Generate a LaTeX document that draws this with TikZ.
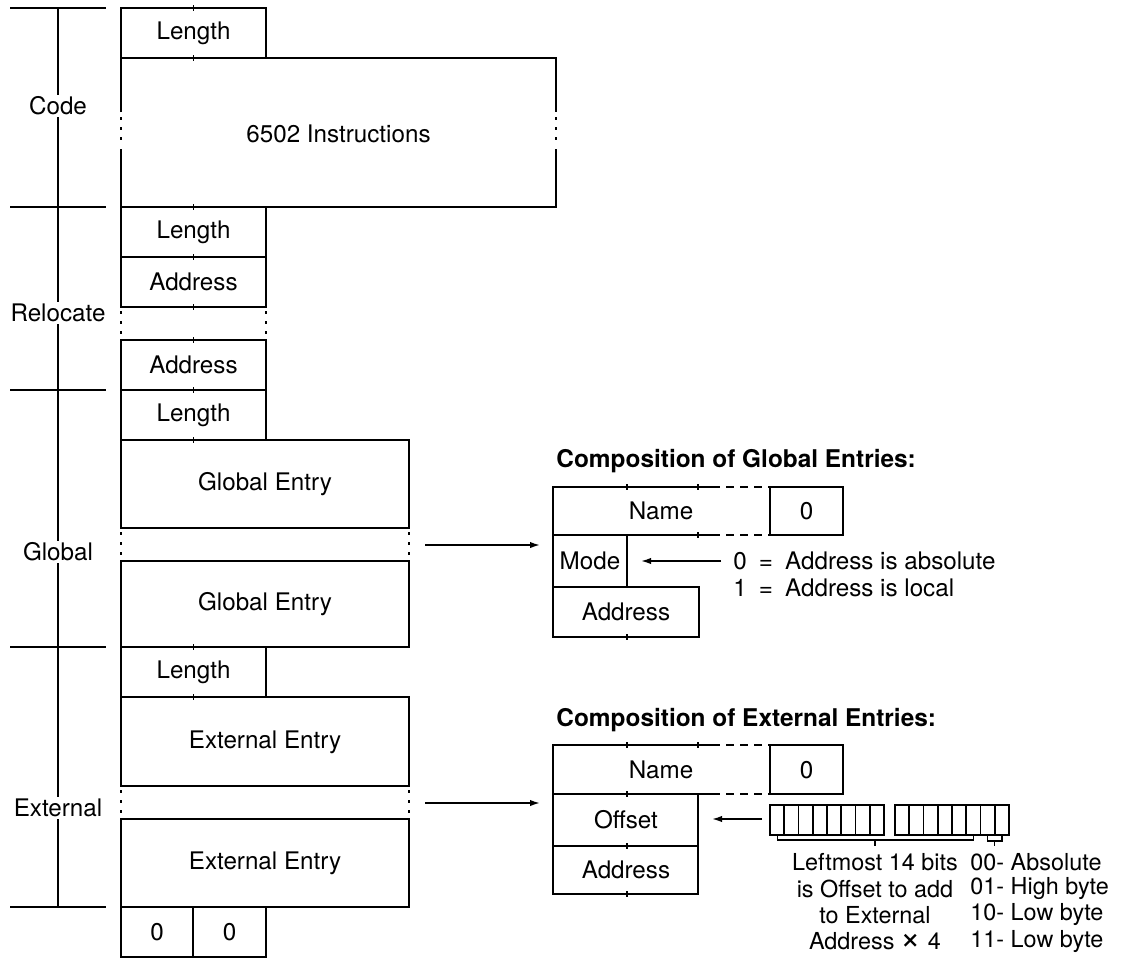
\documentclass[tikz,border=0pt]{standalone}
\usepackage{fontspec}
\setmainfont{TeX Gyre Heros}
\usetikzlibrary{arrows.meta}

\tikzset{
  box/.style={line width=1pt},
  rule/.style={line width=0.9pt},
  dots/.style={line width=1.1pt, dash pattern=on 1.5pt off 3.5pt},
  tick/.style={line width=0.6pt},
  lbl/.style={font=\fontsize{12.1}{13.25}\selectfont, inner sep=1pt},
  note/.style={font=\fontsize{11.7}{12.6}\selectfont, inner sep=0pt},
  ttl/.style={font=\bfseries\fontsize{12.2}{13.25}\selectfont, anchor=west, inner sep=0pt},
  arr/.style={line width=0.8pt, -{Latex[length=5pt,width=3.2pt]}},
}

\begin{document}
\begin{tikzpicture}[x=0.5pt, y=-0.5pt]
\useasboundingbox (0,0) rectangle (1125,964);

% sections on the left
\draw[rule] (58,8) -- (58,907);
\foreach \y in {8,207,390,647,907}
  \draw[rule] (10,\y) -- (106,\y);
\node[lbl, fill=white] (code) at (58,106) {Code};
\node[lbl, fill=white] (reloc) at (58,313) {Relocate};
\node[lbl, fill=white] (glob) at (58,552) {Global};
\node[lbl, fill=white] (extn) at (58,808) {External};

% code block
\draw[box] (121,8) rectangle (266,58);
\node[lbl] (codelen) at (193.5,33) {Length};
\draw[box] (121,112) -- (121,58) -- (556,58) -- (556,112);
\draw[box] (121,149) -- (121,207) -- (556,207) -- (556,149);
\draw[dots] (121,117) -- (121,146);
\draw[dots] (556,117) -- (556,146);
\node[lbl] (instr) at (338.5,134) {6502 Instructions};

% relocation block
\draw[box] (121,207) rectangle (266,257);
\draw[box] (121,257) rectangle (266,307);
\node[lbl] (rellen) at (193.5,232) {Length};
\node[lbl] (reladdr) at (193.5,282) {Address};
\draw[dots] (121,311) -- (121,339);
\draw[dots] (266,311) -- (266,339);
\draw[box] (121,340) rectangle (266,390);
\node[lbl] (reladdrb) at (193.5,365) {Address};

% global block
\draw[box] (121,390) rectangle (266,440);
\node[lbl] (globlen) at (193.5,415) {Length};
\draw[box] (121,440) rectangle (409,528);
\node[lbl] (globa) at (265,484) {Global Entry};
\draw[dots] (121,532) -- (121,560);
\draw[dots] (409,532) -- (409,560);
\draw[box] (121,561) rectangle (409,647);
\node[lbl] (globb) at (265,604) {Global Entry};

% external block
\draw[box] (121,647) rectangle (266,697);
\node[lbl] (extlen) at (193.5,672) {Length};
\draw[box] (121,697) rectangle (409,786);
\node[lbl] (exta) at (265,742) {External Entry};
\draw[dots] (121,790) -- (121,818);
\draw[dots] (409,790) -- (409,818);
\draw[box] (121,819) rectangle (409,907);
\node[lbl] (extb) at (265,863) {External Entry};
\draw[box] (121,907) rectangle (193,957);
\draw[box] (193,907) rectangle (266,957);
\node[lbl] (endl) at (157,932) {0};
\node[lbl] (endr) at (229.5,932) {0};

% byte marks
\foreach \y in {8,58,207,257,307,340,390,440,647,697}
  \draw[tick] (193.5,\y-3) -- (193.5,\y+3);

% composition of global entries
\node[ttl] (gttl) at (556,461) {Composition of Global Entries:};
\draw[box] (712,487) -- (553,487) -- (553,637) -- (699,637) -- (699,587) -- (553,587);
\draw[box] (553,535) -- (712,535);
\draw[box] (627,535) -- (627,587);
\draw[box, dash pattern=on 4pt off 3pt] (712,487) -- (770,487);
\draw[box, dash pattern=on 4pt off 3pt] (712,535) -- (770,535);
\draw[box] (770,487) rectangle (843,535);
\node[lbl] (gname) at (661,511) {Name};
\node[lbl] (gzero) at (806.5,511) {0};
\node[lbl] (gmode) at (590,561) {Mode};
\node[lbl] (gaddr) at (626,612) {Address};
\foreach \x/\y in {627/487,698/487,698/535,627/637}
  \draw[tick] (\x,\y-3) -- (\x,\y+3);
\node[lbl, anchor=west] (gabs) at (731,561) {0\enspace=\enspace Address is absolute};
\node[lbl, anchor=west] (gloc) at (731,588) {1\enspace=\enspace Address is local};
\coordinate (gmodehd) at (641,561);
\draw[arr, shorten <=5pt] (gabs.west) -- (gmodehd);

% composition of external entries
\node[ttl] (ettl) at (556,720) {Composition of External Entries:};
\draw[box] (712,745) -- (553,745) -- (553,894) -- (698,894) -- (698,794);
\draw[box] (553,794) -- (712,794);
\draw[box] (553,846) -- (698,846);
\draw[box, dash pattern=on 4pt off 3pt] (712,745) -- (770,745);
\draw[box, dash pattern=on 4pt off 3pt] (712,794) -- (770,794);
\draw[box] (770,745) rectangle (843,794);
\node[lbl] (ename) at (661,770) {Name};
\node[lbl] (ezero) at (806.5,770) {0};
\node[lbl] (eoff) at (626,820) {Offset};
\node[lbl] (eaddr) at (626,870) {Address};
\foreach \x/\y in {627/745,698/745,627/794,627/846,627/894}
  \draw[tick] (\x,\y-3) -- (\x,\y+3);

% the 16 bits
\draw[box] (770,805) rectangle (884,835);
\draw[box] (895,805) rectangle (1009,835);
\foreach \i in {1,...,7} {
  \draw[tick, line width=0.8pt] (770+\i*14.25,805) -- ++(0,30);
  \draw[tick, line width=0.8pt] (895+\i*14.25,805) -- ++(0,30);
}
\coordinate (bits) at (762,819);
\coordinate (eoffhd) at (712,819);
\draw[arr] (bits) -- (eoffhd);
\draw[tick] (777.1,835) -- (777.1,840) -- (973.4,840) -- (973.4,835);
\draw[tick] (875,840) -- (875,846);
\draw[tick] (987.6,835) -- (987.6,841) -- (1001.9,841) -- (1001.9,835);
\draw[tick] (994.7,841) -- (994.7,846);
\foreach \t [count=\i] in {Leftmost 14 bits, is Offset to add, to External, Address \scalebox{1.5}{×} 4}
  \node[note] (off\i) at (875,835.5+26.5*\i) {\t};
\foreach \t [count=\i] in {00- Absolute, 01- High byte, 10- Low byte, 11- Low byte}
  \node[note, anchor=west] (code\i) at (970,835.5+26.5*\i) {\t};

% links to the compositions
\coordinate (gfrom) at (425,545);
\coordinate (gto) at (540,545);
\draw[arr] (gfrom) -- (gto);
\coordinate (efrom) at (425,803);
\coordinate (eto) at (540,803);
\draw[arr] (efrom) -- (eto);
\end{tikzpicture}
\end{document}
